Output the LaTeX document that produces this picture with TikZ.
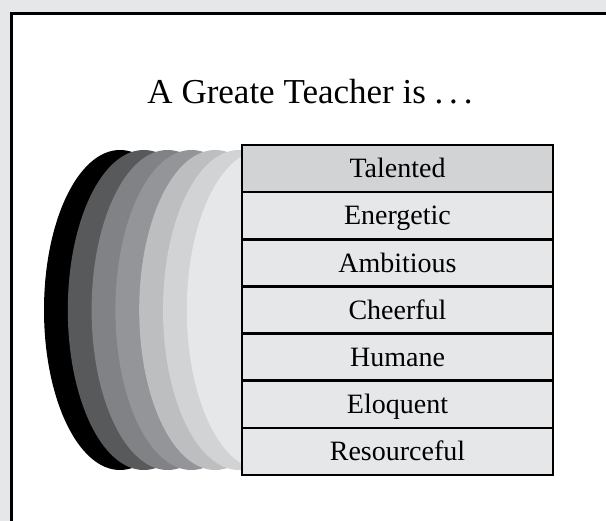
\documentclass[tikz,border=0pt]{standalone}
\usepackage{fontspec}
\setmainfont{Liberation Serif}
\usetikzlibrary{positioning}

\definecolor{paleGray}{HTML}{E6E7E8}
\definecolor{rowHead}{HTML}{D1D3D4}
\definecolor{shadeA}{HTML}{000000}
\definecolor{shadeB}{HTML}{58595B}
\definecolor{shadeC}{HTML}{808285}
\definecolor{shadeD}{HTML}{939598}
\definecolor{shadeE}{HTML}{BCBEC0}
\definecolor{shadeF}{HTML}{D1D3D4}
\definecolor{shadeG}{HTML}{E6E7E8}

\begin{document}
\begin{tikzpicture}[x=1pt, y=-1pt,
    trait/.style={draw=black, line width=2.5pt, fill=paleGray, minimum width=311pt,
                  minimum height=47.14pt, inner sep=0pt, outer sep=0pt,
                  text height=18.5pt, text depth=0pt,
                  font=\fontsize{28}{32}\selectfont}]

    % Frame
    \useasboundingbox (0,0) rectangle (606,521);
    \fill[paleGray] (0,0) rectangle (606,521);
    \fill[white] (11.3,13.7) rectangle (610,525);
    \draw[line width=2.8pt] (11.3,525) -- (11.3,13.7) -- (610,13.7);

    % Title
    \node[anchor=base, font=\fontsize{35}{42}\selectfont] (title) at (310,104) {A Greate Teacher is .\,.\,.};

    % Stacked discs
    \foreach \c [count=\i from 0] in {shadeA, shadeB, shadeC, shadeD, shadeE, shadeF, shadeG}
        \fill[\c] ({120+23.8*\i},310) ellipse [x radius=76pt, y radius=160pt];

    % Traits
    \node[trait, fill=rowHead, anchor=north west] (t1) at (242,145) {Talented};
    \node[trait, below=0pt of t1] (t2) {Energetic};
    \node[trait, below=0pt of t2] (t3) {Ambitious};
    \node[trait, below=0pt of t3] (t4) {Cheerful};
    \node[trait, below=0pt of t4] (t5) {Humane};
    \node[trait, below=0pt of t5] (t6) {Eloquent};
    \node[trait, below=0pt of t6] (t7) {Resourceful};

\end{tikzpicture}
\end{document}
